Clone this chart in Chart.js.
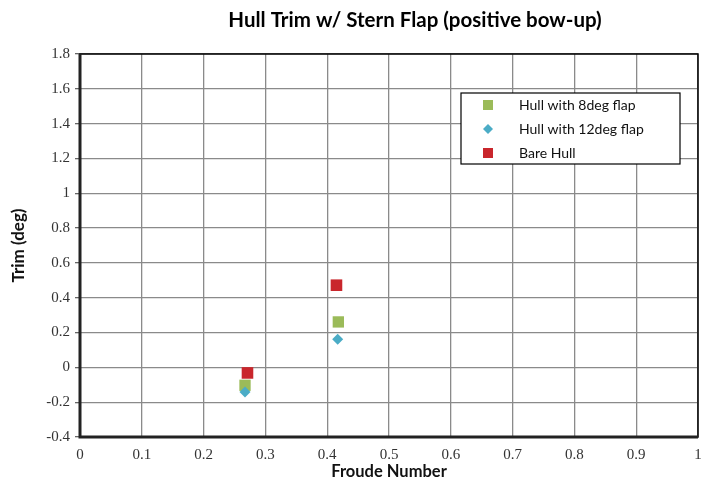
<!DOCTYPE html>
<html>
<head>
<meta charset="utf-8">
<script src="https://cdn.jsdelivr.net/npm/chart.js@4.4.1/dist/chart.umd.min.js"></script>
<style>
  html, body { margin: 0; padding: 0; background: #fff; }
  #wrap { width: 713px; height: 484px; }
</style>
</head>
<body>
<div id="wrap"><canvas id="trimChart" width="713" height="484"></canvas></div>
<script>
// data
const seriesNames = ["Hull with 8deg flap", "Hull with 12deg flap", "Bare Hull"];
const froude8 = [0.267, 0.418];
const trim8 = [-0.103, 0.261];
const froude12 = [0.267, 0.417];
const trim12 = [-0.141, 0.161];
const froudeBare = [0.271, 0.415];
const trimBare = [-0.032, 0.472];
const xTicks = [0, 0.1, 0.2, 0.3, 0.4, 0.5, 0.6, 0.7, 0.8, 0.9, 1];
const yTicks = [-0.4, -0.2, 0, 0.2, 0.4, 0.6, 0.8, 1, 1.2, 1.4, 1.6, 1.8];

const colors = ["#9BBB59", "#4BACC6", "#C9262C"];

function pts(xs, ys) {
    return xs.map((x, i) => ({ x: x, y: ys[i] }));
}

function fmt(v) {
    return String(Math.round(v * 10) / 10);
}

// title, frame and boxed legend
const decor = {
    id: "decor",
    afterDraw(chart) {
        const ctx = chart.ctx;
        const a = chart.chartArea;
        ctx.save();

        // title
        ctx.fillStyle = "#000";
        ctx.font = "bold 20.5px Lato";
        ctx.textAlign = "center";
        ctx.textBaseline = "middle";
        ctx.fillText("Hull Trim w/ Stern Flap (positive bow-up)", 415, 20);

        // frame
        ctx.strokeStyle = "#000";
        ctx.lineWidth = 1.5;
        ctx.strokeRect(a.left, a.top, a.right - a.left, a.bottom - a.top);
        ctx.lineWidth = 3;
        ctx.strokeStyle = "#222";
        ctx.beginPath();
        ctx.moveTo(a.left, a.top);
        ctx.lineTo(a.left, a.bottom);
        ctx.lineTo(a.right, a.bottom);
        ctx.stroke();

        // legend
        const lx = 461, ly = 93, lw = 219, lh = 71;
        ctx.fillStyle = "#fff";
        ctx.fillRect(lx, ly, lw, lh);
        ctx.lineWidth = 1.2;
        ctx.strokeStyle = "#000";
        ctx.strokeRect(lx, ly, lw, lh);
        ctx.font = "14px Lato";
        ctx.textAlign = "left";
        chart.data.datasets.forEach((ds, i) => {
            const y = ly + 12 + i * 24;
            ctx.fillStyle = ds.backgroundColor;
            if (ds.pointStyle === "rectRot") {
                ctx.beginPath();
                ctx.moveTo(488, y - 5);
                ctx.lineTo(493, y);
                ctx.lineTo(488, y + 5);
                ctx.lineTo(483, y);
                ctx.closePath();
                ctx.fill();
            } else {
                ctx.fillRect(483, y - 5, 10, 10);
            }
            ctx.fillStyle = "#111";
            ctx.fillText(ds.label, 519, y);
        });
        ctx.restore();
    }
};

const ctx = document.getElementById("trimChart").getContext("2d");
new Chart(ctx, {
    type: "scatter",
    data: {
        datasets: [
            {
                label: seriesNames[0],
                data: pts(froude8, trim8),
                pointStyle: "rect",
                pointRadius: 8,
                backgroundColor: colors[0],
                borderColor: colors[0],
                borderWidth: 0,
                order: 1
            },
            {
                label: seriesNames[1],
                data: pts(froude12, trim12),
                pointStyle: "rectRot",
                pointRadius: 5.5,
                backgroundColor: colors[1],
                borderColor: colors[1],
                borderWidth: 0,
                order: 0
            },
            {
                label: seriesNames[2],
                data: pts(froudeBare, trimBare),
                pointStyle: "rect",
                pointRadius: 8.2,
                backgroundColor: colors[2],
                borderColor: colors[2],
                borderWidth: 0,
                order: 2
            }
        ]
    },
    options: {
        responsive: false,
        animation: false,
        layout: { padding: { top: 54, right: 15, left: 8, bottom: 2 } },
        plugins: {
            legend: { display: false },
            tooltip: { enabled: false },
            title: { display: false }
        },
        scales: {
            x: {
                type: "linear",
                min: 0,
                max: 1,
                afterBuildTicks: s => { s.ticks = xTicks.map(v => ({ value: v })); },
                grid: { color: "#8a8a8a", lineWidth: 1.3, drawTicks: false },
                border: { display: false },
                ticks: {
                    padding: 9,
                    color: "#333",
                    font: { family: "Liberation Serif", size: 15 },
                    maxRotation: 0,
                    callback: v => fmt(v)
                },
                title: {
                    display: true,
                    text: "Froude Number",
                    color: "#111",
                    font: { family: "Lato", size: 16.5, weight: "bold" },
                    padding: { top: 0, bottom: 0 }
                },
                afterFit: s => { s.height = 45; }
            },
            y: {
                type: "linear",
                min: -0.4,
                max: 1.8,
                afterBuildTicks: s => { s.ticks = yTicks.map(v => ({ value: v })); },
                grid: { color: "#8a8a8a", lineWidth: 1.3, tickLength: 5, tickColor: "#666" },
                border: { display: false },
                ticks: {
                    padding: 5,
                    color: "#333",
                    font: { family: "Liberation Serif", size: 15 },
                    callback: v => fmt(v)
                },
                title: {
                    display: true,
                    text: "Trim (deg)",
                    color: "#111",
                    font: { family: "Lato", size: 17, weight: "bold" },
                    padding: { top: 0, bottom: 6 }
                },
                afterFit: s => { s.width = 72; }
            }
        }
    },
    plugins: [decor]
});
</script>
</body>
</html>
